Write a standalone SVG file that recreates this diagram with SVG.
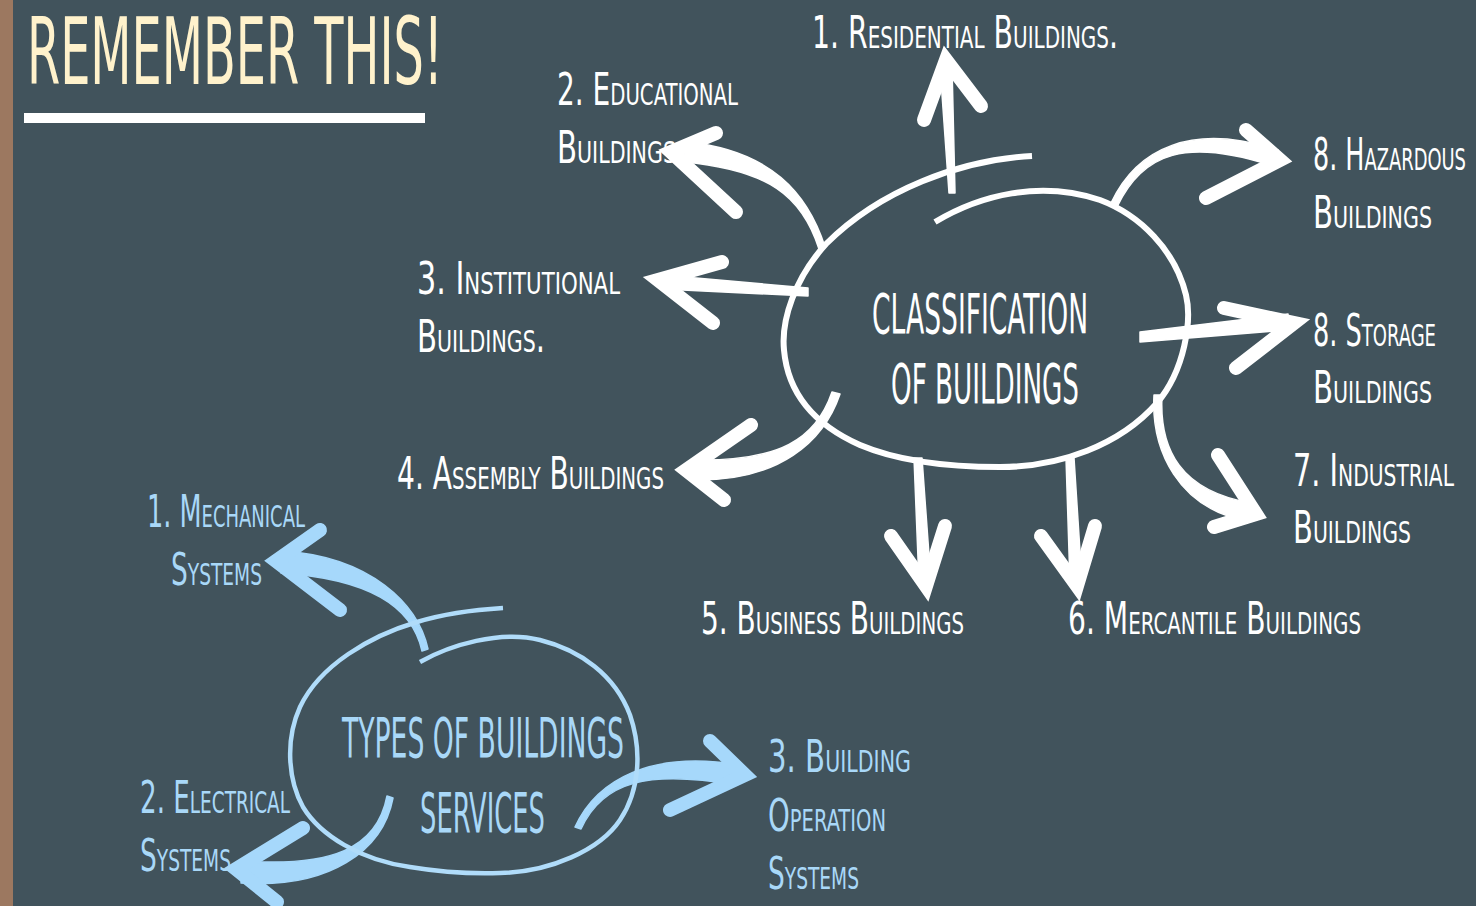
<svg xmlns="http://www.w3.org/2000/svg" width="1476" height="906" viewBox="0 0 1476 906">
<style>
.lbl{font-family:"Liberation Sans Narrow","DejaVu Sans Condensed","Liberation Sans",sans-serif;font-size:44px;font-variant:small-caps;}
.big{font-family:"Liberation Sans Narrow","DejaVu Sans Condensed","Liberation Sans",sans-serif;font-size:56px;}
.w{fill:#ffffff;}
.b{fill:#a9d8f8;}
.sw{fill:#ffffff;stroke:#ffffff;stroke-width:1.5;stroke-linejoin:round;}
.hw{fill:none;stroke:#ffffff;stroke-width:14;stroke-linecap:round;stroke-linejoin:miter;stroke-miterlimit:10;}
.sb{fill:#a6d8fb;stroke:#a6d8fb;stroke-width:1.5;stroke-linejoin:round;}
.hb{fill:none;stroke:#a6d8fb;stroke-width:14;stroke-linecap:round;stroke-linejoin:miter;stroke-miterlimit:10;}
.ew{fill:none;stroke:#ffffff;stroke-width:6;stroke-linecap:butt;}
.eb{fill:none;stroke:#b0dcfa;stroke-width:4.5;stroke-linecap:butt;}
</style>
<rect x="0" y="0" width="1476" height="906" fill="#41535c"/>
<rect x="0" y="0" width="13" height="906" fill="#9c7860"/>

<g id="title">
<text x="27" y="84" font-family="Liberation Sans Narrow,DejaVu Sans Condensed,Liberation Sans,sans-serif" font-size="93" fill="#fff2cc" textLength="416" lengthAdjust="spacingAndGlyphs">REMEMBER THIS!</text>
<rect x="24" y="113" width="401" height="10" fill="#ffffff"/>
</g>

<g id="connectors">
<!-- white arrows -->
<path class="sw" d="M949,193 L940,66 L952,66 L955,193 Z"/>
<polyline class="hw" points="924,120 946,60 981,106"/>
<path class="sw" d="M819,249 C802,196 769,170 684,162 L686,142 C771,150 808,194 825,247 Z"/>
<polyline class="hw" points="716,133 671,152 736,212"/>
<path class="sw" d="M808,296 L662,289 L662,275 L808,288 Z"/>
<polyline class="hw" points="722,262 658,280 713,323"/>
<path class="sw" d="M840,394 C824,441 780,482 692,480 L692,460 C780,462 816,439 832,392 Z"/>
<polyline class="hw" points="751,425 686,470 724,500"/>
<path class="sw" d="M914,458 L919,583 L931,583 L922,458 Z"/>
<polyline class="hw" points="891,536 926,586 945,526"/>
<path class="sw" d="M1066,458 L1070,583 L1082,583 L1074,458 Z"/>
<polyline class="hw" points="1041,536 1077,586 1095,526"/>
<path class="sw" d="M1162,395 C1159,450 1181,491 1251,503 L1248,521 C1178,509 1151,450 1154,395 Z"/>
<polyline class="hw" points="1218,455 1256,514 1214,527"/>
<path class="sw" d="M1140,342 L1288,330 L1288,314 L1140,332 Z"/>
<polyline class="hw" points="1224,308 1294,323 1236,368"/>
<path class="sw" d="M1111,203 C1137,148 1192,122 1278,150 L1273,166 C1187,138 1143,152 1117,207 Z"/>
<polyline class="hw" points="1246,130 1280,160 1206,198"/>
<!-- blue arrows -->
<path class="sb" d="M422,651 C412,606 369,579 281,573 L283,551 C371,557 418,604 428,649 Z"/>
<polyline class="hb" points="320,530 276,561 340,610"/>
<path class="sb" d="M393,798 C383,851 329,889 241,883 L243,861 C331,867 377,849 387,796 Z"/>
<polyline class="hb" points="303,828 236,869 277,902"/>
<path class="sb" d="M575,827 C597,779 652,750 740,765 L736,785 C648,770 603,781 581,829 Z"/>
<polyline class="hb" points="710,741 745,775 670,810"/>
</g>

<g id="classification">
<path class="ew" d="M1032,156 C960,160 880,190 826,244 C795,278 781,320 784,350 C788,395 815,425 860,445 C900,462 950,467 1000,467 C1060,467 1120,445 1157,403 C1185,370 1192,320 1186,295 C1175,250 1140,215 1100,200 C1040,180 980,195 935,222"/>
<text class="big w" x="872" y="333" textLength="216" lengthAdjust="spacingAndGlyphs">CLASSIFICATION</text>
<text class="big w" x="891" y="403" textLength="188" lengthAdjust="spacingAndGlyphs">OF BUILDINGS</text>
</g>

<g id="types">
<path class="eb" d="M503,608 C470,610 440,615 417,622 C370,636 320,665 300,707 C285,740 288,780 303,807 C320,835 360,860 410,867 C440,872 470,874 500,873 C550,872 600,850 620,820 C640,790 642,750 630,715 C615,675 580,650 540,640 C500,630 450,645 420,662"/>
<text class="big b" x="342" y="757" textLength="282" lengthAdjust="spacingAndGlyphs">TYPES OF BUILDINGS</text>
<text class="big b" x="420" y="832" textLength="125" lengthAdjust="spacingAndGlyphs">SERVICES</text>
</g>

<g id="n1"><text class="lbl w" x="812" y="48" textLength="306" lengthAdjust="spacingAndGlyphs">1. Residential Buildings.</text></g>
<g id="n2"><text class="lbl w" x="557" y="105" textLength="181" lengthAdjust="spacingAndGlyphs">2. Educational</text><text class="lbl w" x="557" y="163" textLength="119" lengthAdjust="spacingAndGlyphs">Buildings</text></g>
<g id="n3"><text class="lbl w" x="417" y="294" textLength="203" lengthAdjust="spacingAndGlyphs">3. Institutional</text><text class="lbl w" x="417" y="352" textLength="128" lengthAdjust="spacingAndGlyphs">Buildings.</text></g>
<g id="n4"><text class="lbl w" x="397" y="489" textLength="267" lengthAdjust="spacingAndGlyphs">4. Assembly Buildings</text></g>
<g id="n5"><text class="lbl w" x="701" y="634" textLength="263" lengthAdjust="spacingAndGlyphs">5. Business Buildings</text></g>
<g id="n6"><text class="lbl w" x="1068" y="634" textLength="293" lengthAdjust="spacingAndGlyphs">6. Mercantile Buildings</text></g>
<g id="n7"><text class="lbl w" x="1293" y="486" textLength="161" lengthAdjust="spacingAndGlyphs">7. Industrial</text><text class="lbl w" x="1293" y="543" textLength="118" lengthAdjust="spacingAndGlyphs">Buildings</text></g>
<g id="n8a"><text class="lbl w" x="1313" y="170" textLength="153" lengthAdjust="spacingAndGlyphs">8. Hazardous</text><text class="lbl w" x="1313" y="228" textLength="119" lengthAdjust="spacingAndGlyphs">Buildings</text></g>
<g id="n8b"><text class="lbl w" x="1313" y="346" textLength="123" lengthAdjust="spacingAndGlyphs">8. Storage</text><text class="lbl w" x="1313" y="403" textLength="119" lengthAdjust="spacingAndGlyphs">Buildings</text></g>

<g id="s1"><text class="lbl b" x="147" y="527" textLength="158" lengthAdjust="spacingAndGlyphs">1. Mechanical</text><text class="lbl b" x="171" y="585" textLength="91" lengthAdjust="spacingAndGlyphs">Systems</text></g>
<g id="s2"><text class="lbl b" x="140" y="813" textLength="150" lengthAdjust="spacingAndGlyphs">2. Electrical</text><text class="lbl b" x="140" y="871" textLength="91" lengthAdjust="spacingAndGlyphs">Systems</text></g>
<g id="s3"><text class="lbl b" x="768" y="772" textLength="143" lengthAdjust="spacingAndGlyphs">3. Building</text><text class="lbl b" x="768" y="831" textLength="118" lengthAdjust="spacingAndGlyphs">Operation</text><text class="lbl b" x="768" y="889" textLength="91" lengthAdjust="spacingAndGlyphs">Systems</text></g>
</svg>
